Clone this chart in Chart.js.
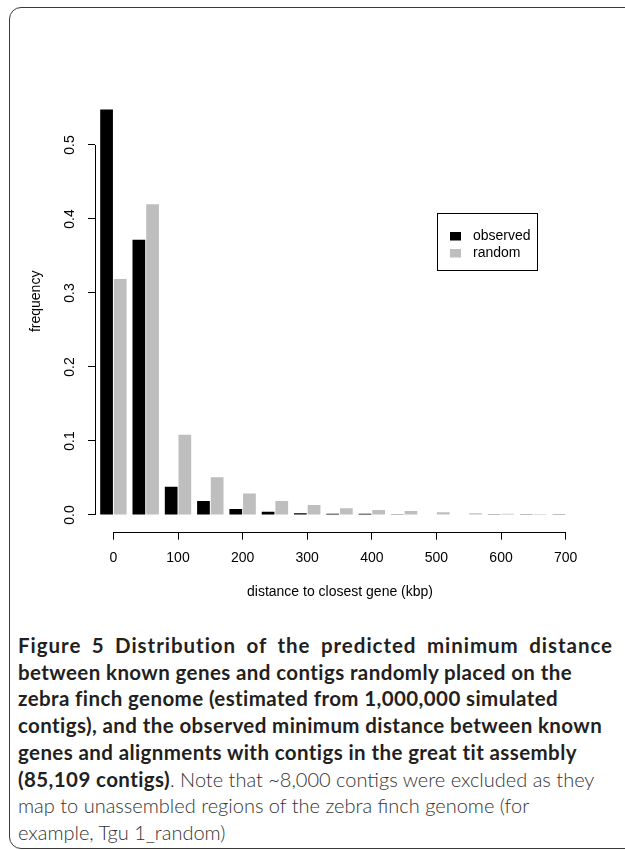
<!DOCTYPE html>
<html>
<head>
<meta charset="utf-8">
<script src="https://cdn.jsdelivr.net/npm/chart.js@4.4.0/dist/chart.umd.min.js"></script>
<style>
  html, body { margin: 0; padding: 0; background: #fff; overflow: hidden; }
  #frame { position: absolute; left: 9px; top: 7px; width: 660px; height: 840px;
           border: 1.3px solid #3a3a3a; border-radius: 12px; }
  #chart { position: absolute; left: 0; top: 0; }
  .cap { position: absolute; left: 18px; font-family: Lato, "Open Sans", sans-serif;
         font-size: 20.5px; line-height: 26.7px; color: #231f20; white-space: nowrap; }
  .cap b { font-weight: 700; letter-spacing: 0.4px; }
  .cap .lt { font-weight: 300; color: #333; font-size: 20px; }
</style>
</head>
<body>
<div id="frame"></div>
<canvas id="chart" width="625" height="620"></canvas>
<div id="caption"></div>
<script>
// bins of 50 kbp, bar groups centred on the bin start
var binStarts = [0, 50, 100, 150, 200, 250, 300, 350, 400, 450, 500, 550, 600, 650, 700];
var observed = [0.548, 0.372, 0.038, 0.019, 0.008, 0.0045, 0.0025, 0.0018, 0.0015, 0.001, 0.0008, 0.0006, 0.0004, 0.0003, 0.0002];
var random   = [0.319, 0.420, 0.1085, 0.051, 0.029, 0.019, 0.0135, 0.009, 0.0068, 0.0055, 0.0037, 0.0025, 0.0018, 0.0012, 0.0008];
var xTicks = [0, 100, 200, 300, 400, 500, 600, 700];
var yTicks = [0, 0.1, 0.2, 0.3, 0.4, 0.5];
var seriesNames = ["observed", "random"];
var seriesColors = ["#000000", "#bebebe"];

var captionLines = [
    "<b>Figure 5 Distribution of the predicted minimum distance</b>",
    "<b>between known genes and contigs randomly placed on the</b>",
    "<b>zebra finch genome (estimated from 1,000,000 simulated</b>",
    "<b>contigs), and the observed minimum distance between known</b>",
    "<b>genes and alignments with contigs in the great tit assembly</b>",
    "<b>(85,109 contigs)</b><span class='lt'>. Note that ~8,000 contigs were excluded as they</span>",
    "<span class='lt'>map to unassembled regions of the zebra finch genome (for</span>",
    "<span class='lt'>example, Tgu 1_random)</span>"
];

var cap = document.getElementById("caption");
for (var i = 0; i < captionLines.length; i++) {
    var d = document.createElement("div");
    d.className = "cap";
    d.style.top = (632 + i * 26.7) + "px";
    d.innerHTML = captionLines[i];
    cap.appendChild(d);
}
// first line is justified in the original: share the slack between letters and words
var first = cap.firstChild;
var fb = first.firstChild;
var w = first.getBoundingClientRect().width;
var txt = first.textContent;
var gaps = txt.split(" ").length - 1;
var extra = 595 - w;
fb.style.letterSpacing = (0.4 + extra * 0.5 / txt.length) + "px";
fb.style.wordSpacing = (extra * 0.5 / gaps) + "px";

Chart.defaults.font.family = "'Liberation Sans', Arial, sans-serif";
Chart.defaults.font.size = 14;
Chart.defaults.color = "#000";

function pairs(vals) {
    return binStarts.map(function (x, k) { return { x: x, y: vals[k] }; });
}

// R-style axes: line only spans first to last tick, rotated y labels, boxed legend
var rAxes = {
    id: "rAxes",
    afterDraw: function (chart) {
        var ctx = chart.ctx;
        var xs = chart.scales.x, ys = chart.scales.y;
        ctx.save();
        ctx.strokeStyle = "#000";
        ctx.lineWidth = 1;
        ctx.beginPath();
        var ax = Math.round(xs.left) + 0.5;
        ctx.moveTo(ax, ys.getPixelForValue(yTicks[0]));
        ctx.lineTo(ax, ys.getPixelForValue(yTicks[yTicks.length - 1]));
        var ay = Math.round(ys.bottom) + 0.5;
        ctx.moveTo(xs.getPixelForValue(xTicks[0]), ay);
        ctx.lineTo(xs.getPixelForValue(xTicks[xTicks.length - 1]), ay);
        ctx.stroke();

        ctx.fillStyle = "#000";
        ctx.font = "14px 'Liberation Sans', Arial, sans-serif";
        ctx.textAlign = "center";
        ctx.textBaseline = "middle";
        yTicks.forEach(function (v) {
            ctx.save();
            ctx.translate(70, ys.getPixelForValue(v));
            ctx.rotate(-Math.PI / 2);
            ctx.fillText(v.toFixed(1), 0, 0);
            ctx.restore();
        });

        // legend
        var lx = 437, ly = 213, lw = 100, lh = 57;
        ctx.strokeRect(lx + 0.5, ly + 0.5, lw, lh);
        ctx.textAlign = "left";
        chart.data.datasets.forEach(function (ds, k) {
            var cy = 236 + k * 17;
            ctx.fillStyle = ds.backgroundColor;
            ctx.fillRect(450, cy - 4, 11, 8.5);
            ctx.fillStyle = "#000";
            ctx.fillText(ds.label, 473, cy);
        });
        ctx.restore();
    }
};

var chart = new Chart(document.getElementById("chart"), {
    type: "bar",
    data: {
        datasets: [
            { label: seriesNames[0], data: pairs(observed), backgroundColor: seriesColors[0] },
            { label: seriesNames[1], data: pairs(random), backgroundColor: seriesColors[1] }
        ]
    },
    options: {
        responsive: false,
        animation: false,
        devicePixelRatio: 1,
        categoryPercentage: 0.847,
        barPercentage: 0.93,
        layout: { padding: { top: 71, right: 40, left: 0, bottom: 0 } },
        plugins: { legend: { display: false }, tooltip: { enabled: false } },
        scales: {
            x: {
                type: "linear",
                offset: false,
                min: -28.5,
                max: 730,
                afterBuildTicks: function (s) { s.ticks = xTicks.map(function (v) { return { value: v }; }); },
                afterFit: function (s) { s.height = 620 - 531.7; },
                border: { display: false },
                grid: { offset: false, drawOnChartArea: false, drawTicks: true, tickLength: 8, color: "#000" },
                ticks: { padding: 10, maxRotation: 0, autoSkip: false, font: { size: 14 } },
                title: { display: true, text: "distance to closest gene (kbp)", font: { size: 14 }, padding: { top: 0, bottom: 19.6 } }
            },
            y: {
                min: -0.0226,
                max: 0.6,
                afterBuildTicks: function (s) { s.ticks = yTicks.map(function (v) { return { value: v }; }); },
                afterFit: function (s) { s.width = 95; },
                border: { display: false },
                grid: { drawOnChartArea: false, drawTicks: true, tickLength: 7, color: "#000" },
                ticks: { display: false },
                title: { display: true, text: "frequency", font: { size: 14 }, padding: { top: 27.6, bottom: 0 } }
            }
        }
    },
    plugins: [rAxes]
});
</script>
</body>
</html>
